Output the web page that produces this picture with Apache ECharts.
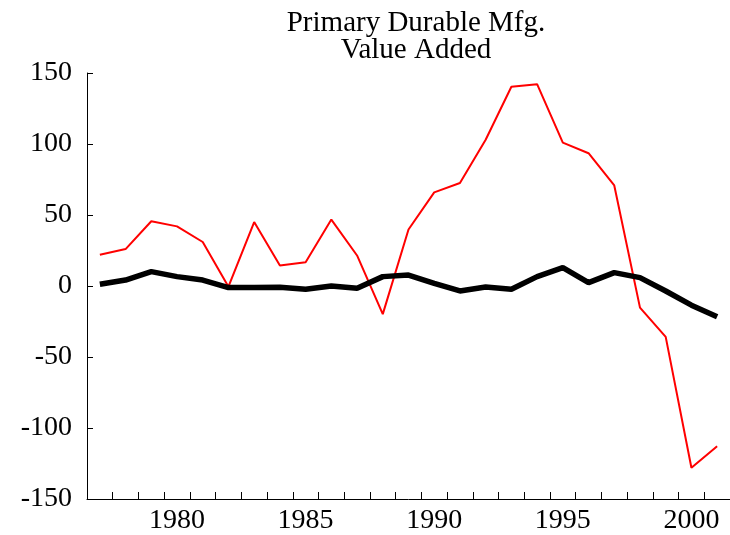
<!DOCTYPE html>
<html>
<head>
<meta charset="utf-8">
<script src="https://cdn.jsdelivr.net/npm/echarts@6/dist/echarts.min.js"></script>
<style>
  html, body { margin: 0; padding: 0; background: #fff; }
  #chart { width: 730px; height: 535px; }
</style>
</head>
<body>
<div id="chart"></div>
<script>
// years on the category axis
const years = [1977, 1978, 1979, 1980, 1981, 1982, 1983, 1984, 1985, 1986, 1987, 1988, 1989,
  1990, 1991, 1992, 1993, 1994, 1995, 1996, 1997, 1998, 1999, 2000, 2001]

// thin red line
const redValues = [22, 26, 45.6, 42, 31, -0.5, 45, 14.5, 16.8, 46.8, 21.5, -19.8, 39.8,
  65.9, 72.5, 103, 140.3, 142.1, 101, 93.5, 70.8, -15.2, -35.8, -128, -112.9]

// thick black line
const blackValues = [1.2, 4.2, 10.1, 6.6, 4.2, -1.1, -1.1, -0.9, -2.3, 0, -1.6, 6.6, 7.7,
  1.9, -3.5, -0.7, -2.3, 6.6, 12.9, 2.4, 9.4, 5.9, -3.5, -13.5, -21.7]

const yTicks = { min: -150, max: 150, step: 50 }

const serif = "'Liberation Serif', 'Times New Roman', serif"

const chart = echarts.init(document.getElementById('chart'), null, { renderer: 'canvas' })

chart.setOption({
  animation: false,
  backgroundColor: '#fff',
  title: {
    text: 'Primary Durable Mfg.\nValue Added',
    left: 411,
    top: 5,
    textAlign: 'center',
    textStyle: {
      fontFamily: serif,
      fontWeight: 'normal',
      fontSize: 29,
      lineHeight: 27,
      color: '#000'
    }
  },
  grid: {
    left: 87,
    top: 73,
    width: 648,
    height: 427,
    containLabel: false
  },
  xAxis: {
    type: 'category',
    data: years,
    boundaryGap: true,
    axisLine: { show: true, onZero: false, lineStyle: { color: '#000', width: 1 } },
    axisTick: {
      show: true,
      inside: true,
      length: 7,
      interval: 0,
      lineStyle: { color: '#000', width: 1 }
    },
    axisLabel: {
      interval: (idx, val) => Number(val) % 5 === 0,
      margin: 8,
      fontFamily: serif,
      fontSize: 28,
      color: '#000'
    },
    splitLine: { show: false }
  },
  yAxis: {
    type: 'value',
    min: yTicks.min,
    max: yTicks.max,
    interval: yTicks.step,
    axisLine: { show: true, lineStyle: { color: '#000', width: 1 } },
    axisTick: {
      show: true,
      inside: true,
      length: 6,
      lineStyle: { color: '#000', width: 1 }
    },
    axisLabel: {
      margin: 15,
      fontFamily: serif,
      fontSize: 28,
      color: '#000'
    },
    splitLine: { show: false }
  },
  series: [
    {
      name: 'red',
      type: 'line',
      data: redValues,
      symbol: 'none',
      z: 2,
      lineStyle: { color: '#ff0000', width: 2 }
    },
    {
      name: 'black',
      type: 'line',
      data: blackValues,
      symbol: 'none',
      z: 3,
      lineStyle: { color: '#000', width: 5.5 }
    }
  ]
})
</script>
</body>
</html>
